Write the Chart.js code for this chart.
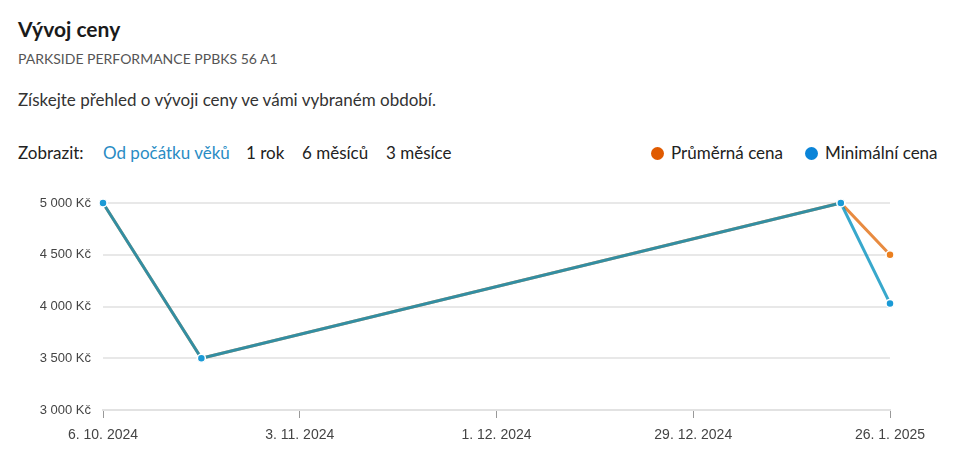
<!DOCTYPE html>
<html>
<head>
<meta charset="utf-8">
<script src="https://cdn.jsdelivr.net/npm/chart.js@4/dist/chart.umd.min.js"></script>
<style>
  html,body{margin:0;padding:0;background:#fff;width:966px;height:476px;overflow:hidden;font-family:Lato,"Noto Sans",sans-serif;}
  .t{position:absolute;white-space:nowrap;line-height:1;}
  #wrap{position:absolute;left:0;top:180px;width:966px;height:290px;}
  .dot{position:absolute;width:13px;height:13px;border-radius:50%;}
</style>
</head>
<body>
<div class="t" style="left:18px;top:18px;font-size:21px;font-weight:700;color:#1a1a1a;">Vývoj ceny</div>
<div class="t" style="left:18px;top:52px;font-size:14px;color:#555;">PARKSIDE PERFORMANCE PPBKS 56 A1</div>
<div class="t" style="left:18px;top:91px;font-size:17px;color:#333;">Získejte přehled o vývoji ceny ve vámi vybraném období.</div>
<div class="t" style="left:18px;top:144px;font-size:17px;color:#222;">Zobrazit:</div>
<div class="t" style="left:103px;top:144px;font-size:17px;color:#2a8cc4;">Od počátku věků</div>
<div class="t" style="left:246px;top:144px;font-size:17px;color:#222;">1 rok</div>
<div class="t" style="left:302px;top:144px;font-size:17px;color:#222;">6 měsíců</div>
<div class="t" style="left:386px;top:144px;font-size:17px;color:#222;">3 měsíce</div>
<div id="legend"></div>
<div id="wrap"><canvas id="c"></canvas></div>
<script>
const dates = ['2024-10-06', '2024-10-20', '2025-01-19', '2025-01-26'];
const avgPrices = [5000, 3500, 5000, 4500];
const minPrices = [5000, 3500, 5000, 4030];
const xTickDates = ['2024-10-06', '2024-11-03', '2024-12-01', '2024-12-29', '2025-01-26'];
const yTicks = [3000, 3500, 4000, 4500, 5000];
const seriesNames = ['Průměrná cena', 'Minimální cena'];
const legendColors = ['#e05a00', '#0a84d8'];

const DAY = 86400000;
const toDay = s => Math.round(Date.UTC(+s.slice(0,4), +s.slice(5,7)-1, +s.slice(8,10)) / DAY);
const fmtDate = d => { const dt = new Date(d * DAY); return dt.getUTCDate() + '. ' + (dt.getUTCMonth()+1) + '. ' + dt.getUTCFullYear(); };
const fmtPrice = v => String(v).replace(/\B(?=(\d{3})+(?!\d))/g, ' ') + ' Kč';

// HTML legend
const lg = document.getElementById('legend');
const legendPos = [[657, 671], [811, 825]];
seriesNames.forEach((n, i) => {
  const d = document.createElement('div'); d.className = 'dot';
  d.style.left = (legendPos[i][0] - 6.5) + 'px'; d.style.top = (153 - 6.5) + 'px'; d.style.background = legendColors[i];
  lg.appendChild(d);
  const t = document.createElement('div'); t.className = 't';
  t.style.left = legendPos[i][1] + 'px'; t.style.top = '144px'; t.style.fontSize = '17px'; t.style.color = '#222';
  t.textContent = n; lg.appendChild(t);
});

const xs = dates.map(toDay);
new Chart(document.getElementById('c'), {
  type: 'line',
  data: {
    datasets: [
      {
        label: seriesNames[0],
        data: xs.map((x, i) => ({x, y: avgPrices[i]})),
        borderColor: 'rgba(224,100,0,0.75)',
        borderWidth: 3,
        pointRadius: 4, pointHoverRadius: 4,
        pointBackgroundColor: '#ea7f1f',
        pointBorderColor: '#fff', pointBorderWidth: 1.5,
        tension: 0, clip: false, order: 2
      },
      {
        label: seriesNames[1],
        data: xs.map((x, i) => ({x, y: minPrices[i]})),
        borderColor: 'rgba(0,144,190,0.78)',
        borderWidth: 3,
        pointRadius: 4, pointHoverRadius: 4,
        pointBackgroundColor: '#1a9ad6',
        pointBorderColor: '#fff', pointBorderWidth: 1.5,
        tension: 0, clip: false, order: 1
      }
    ]
  },
  options: {
    responsive: true, maintainAspectRatio: false, animation: false,
    layout: { padding: { top: 23, right: 76, left: 0, bottom: 0 } },
    plugins: { legend: { display: false }, tooltip: { enabled: false } },
    scales: {
      x: {
        type: 'linear',
        min: toDay(xTickDates[0]), max: toDay(xTickDates[xTickDates.length-1]),
        afterBuildTicks: s => { s.ticks = xTickDates.map(d => ({ value: toDay(d) })); },
        afterFit: s => { s.height = 60; },
        grid: { drawOnChartArea: false, drawTicks: true, tickLength: 8, color: '#999', lineWidth: 1 },
        border: { display: true, color: '#e2e2e2', width: 2 },
        ticks: { callback: v => fmtDate(v), font: { family: 'Liberation Sans, Arial, sans-serif', size: 14 }, color: '#444', padding: 9, maxRotation: 0, autoSkip: false }
      },
      y: {
        min: yTicks[0], max: yTicks[yTicks.length-1],
        afterBuildTicks: s => { s.ticks = yTicks.map(v => ({ value: v })); },
        afterFit: s => { s.width = 103; },
        grid: { drawTicks: false, color: '#e8e8e8', lineWidth: 2 },
        border: { display: false },
        ticks: { callback: v => fmtPrice(v), font: { family: 'Liberation Sans, Arial, sans-serif', size: 13 }, color: '#444', padding: 12 }
      }
    }
  }
});
</script>
</body>
</html>
